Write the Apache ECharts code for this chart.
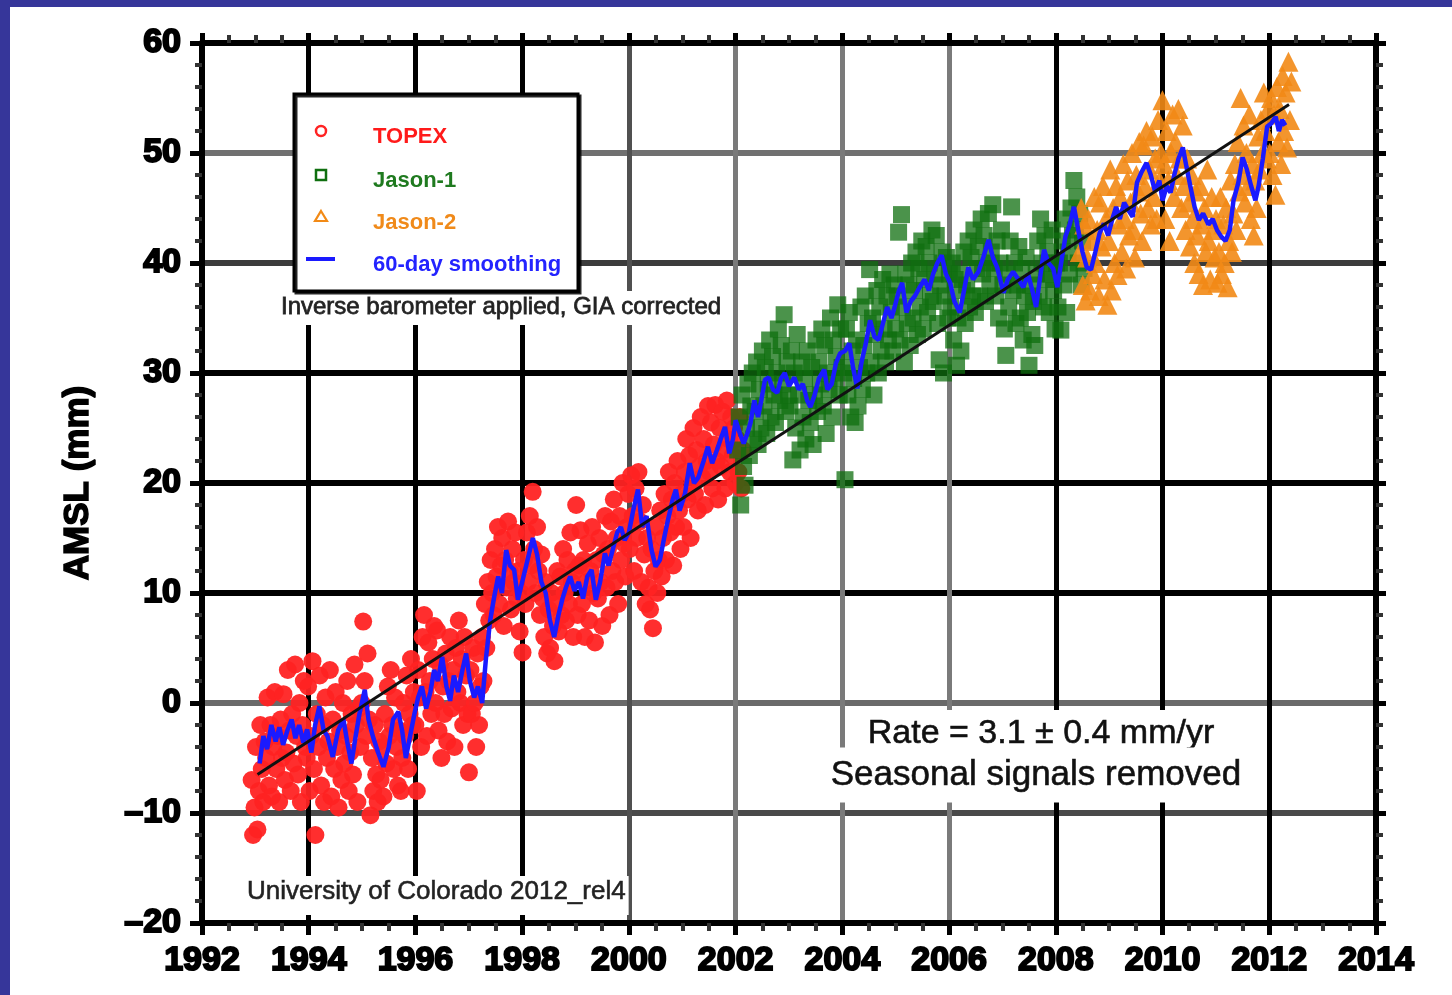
<!DOCTYPE html>
<html>
<head>
<meta charset="utf-8">
<script src="https://cdn.jsdelivr.net/npm/echarts@6/dist/echarts.min.js"></script>
<style>
  html, body { margin: 0; padding: 0; }
  body { width: 1452px; height: 995px; background: #36369a; position: relative; overflow: hidden; }
  #frame { position: absolute; left: 10px; top: 7px; right: 0; bottom: 0; background: #ffffff; }
  #chart { position: absolute; left: 0; top: 0; width: 1452px; height: 995px; }
</style>
</head>
<body>
<div id="frame"></div>
<div id="chart"></div>
<script>
// ---- Data ----
const xTicks = [1992, 1994, 1996, 1998, 2000, 2002, 2004, 2006, 2008, 2010, 2012, 2014];
const yTicks = [-20, -10, 0, 10, 20, 30, 40, 50, 60];
const seriesNames = ['TOPEX', 'Jason-1', 'Jason-2', '60-day smoothing'];

// altimeter repeat cycle (~9.9156 days) in years, and first-cycle epochs
const cycleYears = 0.02715;
const topexStart = 1992.93;
const jason1Start = 2002.04;
const jason2Start = 2008.45;

const topexValues = [
  -7,-12,-9.5,-4,-11.5,-8,-2,-6,-9,-3.5,-5,0.5,-7.5,-2,-8.5,-4,1,-6,-3,-9,-1.5,-5,0.8,-7,-4.5,3,-2.5,-8,-1,-5.5,3.5,-3,-6.5,0,-9,-2,2,-4,
  -5,1.5,-8,-3,3.8,-6,-12,-1,-4,2.5,-7.5,-2,-9,0.5,-5,-3.5,3,-8.5,-1.5,-6,1,-4,-9.5,-2.5,-7,0,-5.5,-3,2,-8,-4.5,-1,-6.5,3.5,-2,-9,-0.5,-4,
  0,7.4,2,-3,4.5,-1.5,-10.2,-5,-8,-2,-6.5,-9,-3.5,-7,-4,-8.5,-1,-5.5,1.5,-3,3,-2,-6,0.5,-4,-7.5,-2.5,-8,-5,0,-3,2.5,-6,-1,4,-2,1,
  -2,-8,3,0.5,-4,6,8,1,-3,5.5,2,-1,4,7,0,6.6,-2.5,3.5,-5,1.5,-1,4.5,-3.5,2,6,-0.5,3,-4,5,1,7.5,0,4,-2,6,2.5,-1,
  -6.3,3,-1,5,0,-4,4.5,-2,1.5,6,2,9,5,11,7.5,13,10,8,14,11.5,16,9,12.5,15,7,13,10.5,16.5,12,8.5,14,11,15.5,9.5,12,6.5,10,
  4.6,13,9,15.5,11,17,12.5,19.2,14,10,16,12,8,13.5,9.5,6,11,4.5,8.5,5,10,7,3.8,9,12,6.5,11.5,8,14,10,7.5,13,9,15.5,11,6,12,
  18,8,12.5,15.7,9,13,6,11,14.5,7.5,12,16,10,5.5,13,9.5,15,11,7,13.5,17,10.5,14,8,16.5,12,18.5,11,15,9,17,13,20,14.5,11.5,16,19,
  14,20.7,17,12,19.5,15,21,16.5,11,18,13.5,9,15,10.5,8.5,14,6.8,12,16,10,13,17.5,11.5,15,19,13,17,21,15.5,18.5,12.5,20,16,22,17.5,14,19,
  16,21,24,18.5,22.5,15,20,25,19,23,17.5,21.5,26,20.5,24,18,22,27,21,25.5,19.5,23.5,27.1,22,18.5,25,21.5,26.5,23,19.5,27.5,24,21,26,22.5,25,20,
  24,21,26,19.5,23
];

const jason1Values = [
  23,26,18,28,21.5,19.8,25,29,22.5,27,30,24,26.5,31,23.5,28.5,25,32,27,30.5,24.5,29,33,26,31.5,28,25.5,30,34,27.5,32.5,29,35.3,26.5,31,28,
  27,32,22.1,30,25,33.5,28,23,31,26,29.5,24,32,27.5,25.5,30.5,23.5,28,33,26.5,31,29,34,27,32.5,24.5,30,28.5,35,26,33,29.5,31.5,36.2,28,34,30.5,
  30,20.3,34,28,35.5,26,32,29.5,25.5,33,27,30.5,36,28.5,32.5,37,30,34.5,39.4,31,35,28,33.5,37.5,30,36,32,38.5,34,31,37,33,39,35.5,32,38,34,
  37,42.8,33,44.4,36,31,39,34.5,38,32.5,40,35,37.5,41,33.5,39.5,36,42,34,38.5,41.5,35.5,40,37,43,36.5,39,42.5,34.5,31.2,38,41,30,37,40.5,35,39,
  36,40,33,38.5,30.7,35,39,32,37.5,41,34.5,38,42,36,40.5,37,43,35.5,39.5,41.5,37,44,39,42.5,36.5,40,44.5,38,41,45.3,39.5,37,42,35,40,43,38,
  34,31.6,39,36,42,45.1,37.5,40,34.5,38,41.5,35,39.5,33,37,40.5,35.5,30.7,38,33.5,36.5,32.5,39,42,37,44,40,36,42.5,38.5,41,35.5,39,43,37.5,34,40,
  36,40,33.9,42,38,44,35.5,41,39,45,42.5,47.5,43,46,40,44.5,38,42,39.5
];

const jason2Values = [
  41,45,38,43.5,36.6,40.5,44,37.5,42,39,46,40,43,37,45.5,41.5,47,38.5,44,36.2,
  42,48.5,37.5,45,40,47,38.9,43.5,46,41,49,44,39.5,47.5,42.5,45.5,50,43,40.5,48,46.5,51,44.5,42,50.7,47,52,45,48.5,43.5,51.5,46,49.5,44,53,47.5,50,
  54.8,49,44,52,47.5,42,50,53.5,46,51,48,54,49.5,45,52.5,47,43,49.5,45.5,41.5,48,44,40,46.5,42.5,39,47,43.5,38,45,41,48.5,42,38.5,46,43,40.5,
  44,38.2,41,46,39,43.5,40,45,37.8,42,47.5,41,44.5,49,43,51,46.5,55,48,52.5,45.5,50,47,53.5,44,49,42.5,47.5,45,51.5,48.5,53,50,55.5,52,49.5,54,
  50,55,48,53.5,46.2,56,51,54,49,57,52,55.5,50.5,58.3,53,56.5
];

const smoothing = [
  [1993.08,-5.5],[1993.15,-3.0],[1993.22,-4.2],[1993.3,-2.0],[1993.38,-3.5],[1993.45,-2.2],[1993.52,-3.8],[1993.6,-2.5],[1993.68,-1.5],[1993.75,-3.2],[1993.82,-2.0],[1993.9,-3.6],[1993.97,-2.4],
  [1994.05,-4.5],[1994.12,-2.0],[1994.2,-0.3],[1994.28,-2.5],[1994.35,-3.0],[1994.45,-4.9],[1994.55,-2.5],[1994.65,-1.5],[1994.72,-3.5],[1994.8,-5.5],[1994.88,-3.0],[1994.95,-1.0],
  [1995.05,1.2],[1995.12,-1.5],[1995.2,-3.0],[1995.3,-4.5],[1995.4,-5.8],[1995.5,-4.0],[1995.58,-1.5],[1995.68,-0.8],[1995.75,-2.5],[1995.82,-5.0],[1995.9,-3.0],[1995.98,-1.0],
  [1996.05,0.5],[1996.12,1.5],[1996.2,-0.5],[1996.28,1.0],[1996.35,3.0],[1996.42,2.0],[1996.5,4.2],[1996.58,1.5],[1996.65,0.2],[1996.72,2.5],[1996.8,1.0],[1996.88,3.0],[1996.95,4.5],
  [1997.02,2.0],[1997.1,0.5],[1997.17,1.5],[1997.25,0.0],[1997.32,4.0],[1997.4,7.5],[1997.47,9.5],[1997.55,11.5],[1997.62,10.0],[1997.7,13.9],[1997.77,12.5],[1997.85,12.1],[1997.92,9.4],
  [1998.0,11.0],[1998.1,13.0],[1998.2,15.0],[1998.28,13.5],[1998.36,11.0],[1998.44,10.0],[1998.52,7.5],[1998.6,6.0],[1998.68,8.0],[1998.75,9.4],[1998.82,10.5],[1998.9,11.5],[1998.98,10.2],
  [1999.06,11.0],[1999.14,9.5],[1999.22,11.5],[1999.3,12.1],[1999.38,9.4],[1999.46,11.0],[1999.55,13.6],[1999.62,12.5],[1999.7,14.0],[1999.78,15.5],[1999.85,16.0],[1999.92,14.8],
  [2000.0,15.5],[2000.08,17.5],[2000.17,19.4],[2000.25,16.0],[2000.33,17.0],[2000.42,14.0],[2000.5,12.4],[2000.58,13.0],[2000.66,15.0],[2000.73,16.6],[2000.82,18.5],[2000.88,19.4],[2000.95,17.5],
  [2001.05,19.0],[2001.14,21.8],[2001.22,20.0],[2001.3,20.5],[2001.4,22.0],[2001.48,23.3],[2001.56,21.8],[2001.65,23.0],[2001.72,24.0],[2001.8,25.1],[2001.88,22.7],[2001.95,24.0],
  [2002.0,25.7],[2002.08,24.5],[2002.15,23.6],[2002.22,24.5],[2002.28,25.5],[2002.35,27.5],[2002.42,26.0],[2002.48,27.5],[2002.55,29.4],[2002.62,29.6],[2002.7,28.5],[2002.78,28.2],[2002.85,29.5],[2002.92,30.0],
  [2003.0,28.8],[2003.1,29.6],[2003.18,28.5],[2003.26,29.0],[2003.34,27.5],[2003.4,26.9],[2003.48,28.0],[2003.56,29.5],[2003.66,30.3],[2003.72,28.5],[2003.8,29.0],[2003.88,30.9],[2003.96,31.8],
  [2004.05,32.0],[2004.13,32.7],[2004.2,30.5],[2004.28,28.6],[2004.36,31.0],[2004.44,32.7],[2004.52,34.8],[2004.6,33.3],[2004.68,33.0],[2004.76,34.5],[2004.84,36.0],[2004.92,35.0],[2004.98,36.0],
  [2005.06,37.5],[2005.12,38.2],[2005.2,35.5],[2005.28,36.5],[2005.36,37.0],[2005.45,37.8],[2005.54,38.5],[2005.62,37.5],[2005.7,39.0],[2005.78,40.0],[2005.86,40.7],[2005.94,39.0],
  [2006.02,38.2],[2006.1,36.5],[2006.2,35.5],[2006.28,37.5],[2006.36,39.6],[2006.45,38.5],[2006.55,39.2],[2006.64,40.5],[2006.74,42.1],[2006.82,40.5],[2006.9,39.6],
  [2007.02,37.3],[2007.1,38.5],[2007.2,39.2],[2007.3,38.5],[2007.39,37.8],[2007.48,39.0],[2007.56,37.5],[2007.63,36.0],[2007.7,38.5],[2007.78,41.2],[2007.86,40.0],[2007.95,39.5],
  [2008.03,37.8],[2008.1,40.0],[2008.18,42.4],[2008.26,43.5],[2008.34,45.1],[2008.42,43.0],[2008.5,41.0],[2008.58,39.6],[2008.66,39.4],[2008.74,41.0],[2008.82,42.7],[2008.9,43.6],[2008.98,42.5],
  [2009.06,44.0],[2009.13,45.1],[2009.2,44.0],[2009.28,45.5],[2009.36,44.8],[2009.44,44.2],[2009.52,47.3],[2009.6,48.2],[2009.7,49.1],[2009.78,48.0],[2009.86,46.5],[2009.94,47.5],
  [2010.0,45.7],[2010.08,47.0],[2010.15,46.4],[2010.22,48.0],[2010.3,49.5],[2010.38,50.5],[2010.45,48.7],[2010.52,47.0],[2010.6,45.1],[2010.68,43.9],[2010.76,44.5],[2010.86,43.5],[2010.94,44.0],
  [2011.02,43.0],[2011.1,42.4],[2011.18,42.0],[2011.26,43.0],[2011.33,45.7],[2011.42,47.3],[2011.5,49.6],[2011.58,48.5],[2011.66,47.0],[2011.74,45.7],[2011.8,47.0],[2011.88,49.5],[2011.96,52.4],
  [2012.04,52.7],[2012.12,53.3],[2012.18,52.0],[2012.24,53.0],[2012.3,52.5]
];

// fitted linear trend (3.1 mm/yr) end points
const trendLine = [[1993.04, -6.5], [2012.37, 54.4]];

const annotations = {
  ib: 'Inverse barometer applied, GIA corrected',
  cu: 'University of Colorado 2012_rel4',
  rate: 'Rate = 3.1 \u00b1 0.4 mm/yr',
  seasonal: 'Seasonal signals removed'
};

// ---- Build ----
function toPoints(start, values) {
  return values.map((v, i) => [start + i * cycleYears, v]);
}

const FONT = '"Liberation Sans", Arial, Helvetica, sans-serif';
const RED = '#ff2323', GREEN = '#0f6f0f', ORANGE = '#f28a16', BLUE = '#1a1aff';
const legendTextColors = ['#ff1a1a', '#1f7a1f', '#f08a1a', '#2323ff'];

const xLineColors = ['#000','#000','#000','#000','#505050','#7a7a7a','#7a7a7a','#7a7a7a','#000','#000','#000','#000'];
const yLineColors = ['#000','#4a4a4a','#6a6a6a','#000','#000','#000','#3c3c3c','#707070','#000'];

const tickLabel = {
  fontFamily: FONT, fontWeight: 'bold', fontSize: 34, color: '#000',
  textBorderColor: '#000', textBorderWidth: 2, margin: 21,
  formatter: v => (v < 0 ? '\u2013' + Math.abs(v) : String(v))
};

const baseX = {
  type: 'value', min: xTicks[0], max: xTicks[xTicks.length - 1], interval: 2,
  axisLine: { show: true, onZero: false, lineStyle: { color: '#000', width: 6 } },
  axisTick: { show: true, inside: false, length: 12, lineStyle: { color: '#000', width: 5 } },
  minorTick: { show: true, splitNumber: 4, length: 8, lineStyle: { color: '#333', width: 4 } },
};
const baseY = {
  type: 'value', min: yTicks[0], max: yTicks[yTicks.length - 1], interval: 10,
  axisLine: { show: true, onZero: false, lineStyle: { color: '#000', width: 6 } },
  axisTick: { show: true, inside: false, length: 12, lineStyle: { color: '#000', width: 5 } },
  minorTick: { show: true, splitNumber: 5, length: 7, lineStyle: { color: '#333', width: 4 } },
};

// legend drawn as a framed box (layout only; no data here)
const LG = { x: 294, y: 94, w: 284, h: 197, iconX: 321, textX: 373, rows: [131, 175, 217, 259] };
const legendGraphics = [
  { type: 'rect', z: 60, shape: { x: LG.x, y: LG.y, width: LG.w, height: LG.h },
    style: { fill: '#fff', stroke: '#000', lineWidth: 3, shadowColor: 'rgba(0,0,0,0.85)', shadowOffsetX: 2, shadowOffsetY: 2, shadowBlur: 0 } },
  { type: 'circle', z: 61, shape: { cx: LG.iconX, cy: LG.rows[0], r: 5 }, style: { fill: '#fff', stroke: RED, lineWidth: 2.5 } },
  { type: 'rect', z: 61, shape: { x: LG.iconX - 5, y: LG.rows[1] - 5, width: 10, height: 10 }, style: { fill: '#fff', stroke: GREEN, lineWidth: 2.5 } },
  { type: 'polygon', z: 61, shape: { points: [[LG.iconX, LG.rows[2] - 6], [LG.iconX + 6, LG.rows[2] + 4], [LG.iconX - 6, LG.rows[2] + 4]] }, style: { fill: '#fff', stroke: ORANGE, lineWidth: 2.2 } },
  { type: 'line', z: 61, shape: { x1: LG.iconX - 15, y1: LG.rows[3], x2: LG.iconX + 14, y2: LG.rows[3] }, style: { stroke: BLUE, lineWidth: 4 } }
].concat(seriesNames.map((name, i) => ({
  type: 'text', z: 61, x: LG.textX, y: LG.rows[i] + 6,
  style: { text: name, font: 'bold 22px ' + FONT, fill: legendTextColors[i], verticalAlign: 'middle', align: 'left' }
})));

const option = {
  animation: false,
  backgroundColor: 'transparent',
  grid: { left: 202, top: 43, width: 1174, height: 880, containLabel: false },
  xAxis: [
    Object.assign({}, baseX, {
      position: 'bottom',
      axisLabel: tickLabel,
      splitLine: { show: true, showMinLine: true, showMaxLine: true, lineStyle: { color: xLineColors, width: 5 } },
      minorSplitLine: { show: false }
    }),
    Object.assign({}, baseX, {
      position: 'top', axisTick: { show: true, length: 10, lineStyle: { color: '#000', width: 5 } },
      axisLabel: { show: false }, splitLine: { show: false }
    })
  ],
  yAxis: [
    Object.assign({}, baseY, {
      position: 'left',
      name: 'AMSL (mm)', nameLocation: 'middle', nameGap: 106, nameRotate: 90,
      nameTextStyle: { fontFamily: FONT, fontWeight: 'bold', fontSize: 35, color: '#000', textBorderColor: '#000', textBorderWidth: 1.5 },
      axisLabel: tickLabel,
      splitLine: { show: true, showMinLine: true, showMaxLine: true, lineStyle: { color: yLineColors, width: 6 } }
    }),
    Object.assign({}, baseY, {
      position: 'right', axisTick: { show: true, length: 10, lineStyle: { color: '#000', width: 5 } },
      axisLabel: { show: false }, splitLine: { show: false }
    })
  ],
  graphic: legendGraphics.concat([
    { type: 'text', left: 278, top: 291, z: 50,
      style: { text: annotations.ib, font: '24px ' + FONT, fill: '#222', stroke: '#333', lineWidth: 0.8,
               backgroundColor: '#fff', padding: [4, 3, 6, 3] } },
    { type: 'text', left: 244, top: 876, z: 50,
      style: { text: annotations.cu, font: '26px ' + FONT, fill: '#222', stroke: '#333', lineWidth: 0.6,
               backgroundColor: '#fff', padding: [3, 3, 10, 3] } },
    { type: 'text', x: 1041, y: 734, z: 50,
      style: { text: annotations.rate, font: '34px ' + FONT, fill: '#111', stroke: '#222', lineWidth: 0.6,
               align: 'center', verticalAlign: 'middle', backgroundColor: '#fff', padding: [10, 14, 4, 14] } },
    { type: 'text', x: 1036, y: 775, z: 50,
      style: { text: annotations.seasonal, font: '35px ' + FONT, fill: '#111', stroke: '#222', lineWidth: 0.6,
               align: 'center', verticalAlign: 'middle', backgroundColor: '#fff', padding: [4, 10, 16, 10] } }
  ]),
  series: [
    { name: seriesNames[0], type: 'scatter', data: toPoints(topexStart, topexValues),
      symbol: 'circle', symbolSize: 18, itemStyle: { color: RED, opacity: 0.95 }, z: 2, silent: true },
    { name: seriesNames[1], type: 'scatter', data: toPoints(jason1Start, jason1Values),
      symbol: 'rect', symbolSize: 17, itemStyle: { color: GREEN, opacity: 0.75 }, z: 2, silent: true },
    { name: seriesNames[2], type: 'scatter', data: toPoints(jason2Start, jason2Values),
      symbol: 'triangle', symbolSize: 20, itemStyle: { color: ORANGE, opacity: 0.9 }, z: 2, silent: true },
    { name: seriesNames[3], type: 'line', data: smoothing, symbol: 'none', showSymbol: false,
      lineStyle: { color: BLUE, width: 4.5 }, itemStyle: { color: BLUE }, z: 4, silent: true },
    { name: 'trend', type: 'line', data: trendLine, symbol: 'none', showSymbol: false,
      lineStyle: { color: '#111', width: 3 }, z: 5, silent: true }
  ]
};

const chart = echarts.init(document.getElementById('chart'), null, { renderer: 'canvas' });
chart.setOption(option);
</script>
</body>
</html>
